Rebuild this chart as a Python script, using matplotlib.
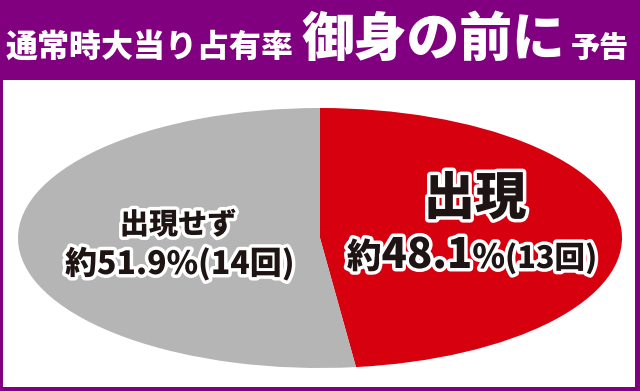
import matplotlib
matplotlib.use("Agg")
import matplotlib.pyplot as plt
import matplotlib.patheffects as pe
from matplotlib.patches import Rectangle
from matplotlib.offsetbox import TextArea, HPacker, AnnotationBbox

plt.rcParams['font.family'] = ['Noto Sans CJK JP', 'DejaVu Sans']

# data
labels = ["出現", "出現せず"]
shares = [48.1, 51.9]
counts = [13, 14]
colors = ["#D7000F", "#B5B5B6"]

purple = "#800080"
ink = "#1E1414"
W, H = 640, 391

fig = plt.figure(figsize=(6.4, 3.91), dpi=100)
fig.patch.set_facecolor(purple)

def fx(px):
    return px / W

def fy(py):
    return 1 - py / H

# white panel
fig.add_artist(Rectangle((fx(3), fy(387)), fx(632), (387 - 80) / H,
                         transform=fig.transFigure, facecolor="white",
                         edgecolor="none", zorder=0))

# header
fig.text(fx(6), fy(47), "通常時大当り占有率", color="white", fontsize=23,
         fontweight="black", va="center", ha="left")
fig.text(fx(302), fy(40), "御身の前に", color="white", fontsize=38,
         fontweight="black", va="center", ha="left")
fig.text(fx(571), fy(48), "予告", color="white", fontsize=21,
         fontweight="black", va="center", ha="left")

# pie drawn as a stretched ellipse
ax = fig.add_axes([fx(18), fy(368), fx(622 - 18), (368 - 108) / H])
ax.pie(shares, colors=colors, startangle=90, counterclock=False,
       radius=1, wedgeprops=dict(linewidth=0))
ax.set_aspect("auto")
ax.set_xlim(-1, 1)
ax.set_ylim(-1, 1)
ax.axis("off")

stroke = [pe.withStroke(linewidth=5, foreground="white")]

# red slice labels
fig.text(fx(475), fy(199), labels[0], color=ink, fontsize=37,
         fontweight="black", ha="center", va="center", path_effects=stroke)

def tp(size):
    return dict(color=ink, fontsize=size, fontweight="black",
                path_effects=stroke)

pieces = [("約", 25), ("%.1f" % shares[0], 30), ("%", 24),
          ("(%d" % counts[0], 22), ("回)", 22)]
box = HPacker(children=[TextArea(t, textprops=tp(s)) for t, s in pieces],
              align="baseline", pad=0, sep=0)
ab = AnnotationBbox(box, (fx(472), fy(256)), xycoords="figure fraction",
                    box_alignment=(0.5, 0.5), frameon=False)
fig.add_artist(ab)

# gray slice labels
fig.text(fx(178), fy(225), labels[1], color=ink, fontsize=21,
         fontweight="black", ha="center", va="center", path_effects=stroke)
fig.text(fx(180), fy(264), "約%.1f%%(%d回)" % (shares[1], counts[1]),
         color=ink, fontsize=23, fontweight="black", ha="center",
         va="center", path_effects=stroke)

fig.savefig("out.png", dpi=100, facecolor=purple)
